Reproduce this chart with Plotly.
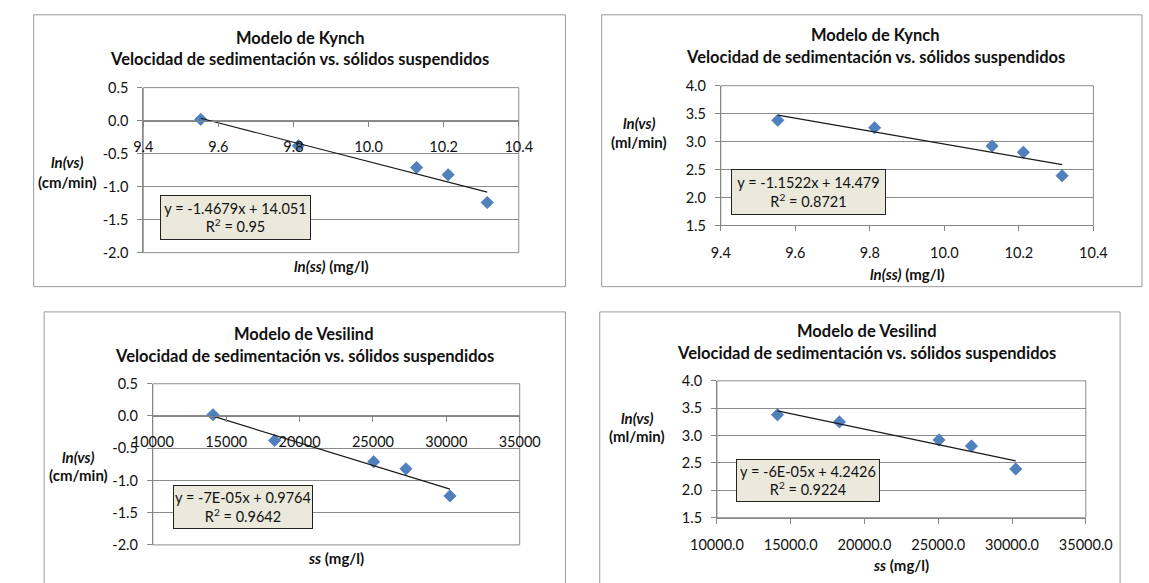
import numpy as np
import plotly.graph_objects as go

W, H = 1149, 583

# ---------------- data ----------------
ln_ss = [9.553, 9.813, 10.128, 10.212, 10.316]
ss = [14100, 18300, 25050, 27250, 30250]
ln_vs_cm = [0.02, -0.38, -0.71, -0.82, -1.24]
ln_vs_ml = [3.38, 3.25, 2.92, 2.81, 2.39]

# tick values / labels
x_ticks_ln = [9.4, 9.6, 9.8, 10.0, 10.2, 10.4]
x_ticks_ss = [10000, 15000, 20000, 25000, 30000, 35000]
x_labels_ln = ["9.4", "9.6", "9.8", "10.0", "10.2", "10.4"]
x_labels_ss = ["10000", "15000", "20000", "25000", "30000", "35000"]
x_labels_ss1 = ["10000.0", "15000.0", "20000.0", "25000.0", "30000.0", "35000.0"]
y_ticks_cm = [-2.0, -1.5, -1.0, -0.5, 0.0, 0.5]
y_labels_cm = ["-2.0", "-1.5", "-1.0", "-0.5", "0.0", "0.5"]
y_ticks_ml = [1.5, 2.0, 2.5, 3.0, 3.5, 4.0]
y_labels_ml = ["1.5", "2.0", "2.5", "3.0", "3.5", "4.0"]

titles = ["Modelo de Kynch", "Modelo de Kynch", "Modelo de Vesilind", "Modelo de Vesilind"]
subtitle = "Velocidad de sedimentación vs. sólidos suspendidos"
eq_text = ["y = -1.4679x + 14.051", "y = -1.1522x + 14.479",
           "y = -7E-05x + 0.9764", "y = -6E-05x + 4.2426"]
r2_text = ["R<sup>2</sup> = 0.95", "R<sup>2</sup> = 0.8721",
           "R<sup>2</sup> = 0.9642", "R<sup>2</sup> = 0.9224"]
y_units = ["(cm/min)", "(ml/min)", "(cm/min)", "(ml/min)"]
x_titles = ["<b><i>ln(ss)</i> (mg/l)</b>", "<b><i>ln(ss)</i> (mg/l)</b>",
            "<b><i>ss</i> (mg/l)</b>", "<b><i>ss</i> (mg/l)</b>"]

series_x = [ln_ss, ln_ss, ss, ss]
series_y = [ln_vs_cm, ln_vs_ml, ln_vs_cm, ln_vs_ml]
xticks = [(x_ticks_ln, x_labels_ln), (x_ticks_ln, x_labels_ln),
          (x_ticks_ss, x_labels_ss), (x_ticks_ss, x_labels_ss1)]
yticks = [(y_ticks_cm, y_labels_cm), (y_ticks_ml, y_labels_ml),
          (y_ticks_cm, y_labels_cm), (y_ticks_ml, y_labels_ml)]

# ---------------- layout (pixel geometry) ----------------
panels = [
    dict(frame=(7, 6, 565, 286), plot=(122, 81, 516, 251), xr=(9.4, 10.4),
         yr=(-2.0, 0.5), cross=True, title_x=286, title_y=(30, 52), ytitle=(42, 158, 178),
         xtitle_y=265, box=(143, 192, 294, 237)),
    dict(frame=(603, 6, 1170, 286), plot=(728, 79, 1119, 223), xr=(9.4, 10.4),
         yr=(1.5, 4.0), cross=False, title_x=890, title_y=(27, 49), ytitle=(642, 117, 137),
         xtitle_y=273, box=(743, 165, 898, 211)),
    dict(frame=(18, 312, 565, 600), plot=(132, 386, 517, 552), xr=(10000, 35000),
         yr=(-2.0, 0.5), cross=True, title_x=291, title_y=(335, 357), ytitle=(54, 461, 480),
         xtitle_y=565, box=(157, 491, 297, 535)),
    dict(frame=(601, 312, 1147, 600), plot=(724, 383, 1111, 524), xr=(10000, 35000),
         yr=(1.5, 4.0), cross=False, title_x=881, title_y=(332, 354), ytitle=(640, 421, 440),
         xtitle_y=573, box=(748, 464, 892, 507)),
]

def px(x):
    return x / W

def py(y):
    return 1 - y / H

FONT = "Lato, 'Open Sans', sans-serif"
GRID = "#8c8c8c"
AXIS = "#868686"
TXT = "#111111"
TICK_SIZE = 14.5

fig = go.Figure()
shapes = []
annotations = []
layout_axes = {}

for i, p in enumerate(panels):
    k = "" if i == 0 else str(i + 1)
    xa, ya = "x" + k, "y" + k
    l, t, r, b = p["plot"]
    xs, ys = series_x[i], series_y[i]

    fig.add_trace(go.Scatter(
        x=xs, y=ys, mode="markers", xaxis=xa, yaxis=ya, showlegend=False,
        marker=dict(symbol="diamond", size=9.5, color="#4f81bd",
                    line=dict(width=0.6, color="#3d6fae")),
    ))
    slope, icpt = np.polyfit(xs, ys, 1)
    xe = [min(xs), max(xs)]
    fig.add_trace(go.Scatter(
        x=xe, y=[slope * v + icpt for v in xe], mode="lines", xaxis=xa, yaxis=ya,
        showlegend=False, line=dict(color="#1a1a1a", width=1.2),
    ))

    y0, y1 = p["yr"]
    if p["cross"]:
        pos = py(b - (0 - y0) / (y1 - y0) * (b - t))
        xanchor = dict(anchor="free", position=pos)
        standoff = 8
    else:
        xanchor = dict(anchor=ya)
        standoff = 9

    layout_axes["xaxis" + k] = dict(
        domain=[px(l), px(r)], range=list(p["xr"]),
        tickmode="array", tickvals=xticks[i][0], ticktext=xticks[i][1],
        showgrid=False, zeroline=False, showline=True,
        linecolor=AXIS, linewidth=1, ticks="outside", ticklen=5, tickcolor=AXIS,
        tickfont=dict(family=FONT, size=TICK_SIZE, color=TXT), ticklabelstandoff=standoff,
        side="bottom", **xanchor)
    layout_axes["yaxis" + k] = dict(
        domain=[py(b), py(t)], range=[y0, y1],
        tickmode="array", tickvals=yticks[i][0], ticktext=yticks[i][1],
        showgrid=True, gridcolor=GRID, gridwidth=1, zeroline=False, showline=True,
        linecolor=AXIS, linewidth=1, ticks="outside", ticklen=5, tickcolor=AXIS,
        tickfont=dict(family=FONT, size=TICK_SIZE, color=TXT), ticklabelstandoff=6,
        anchor=xa)

    # plot-area border
    shapes.append(dict(type="rect", xref="paper", yref="paper",
                       x0=px(l), x1=px(r), y0=py(b), y1=py(t),
                       line=dict(color=GRID, width=1), layer="below"))
    # chart frame
    fl, ft, fr, fb = p["frame"]
    shapes.append(dict(type="rect", xref="paper", yref="paper",
                       x0=px(fl), x1=px(fr), y0=py(fb), y1=py(ft),
                       line=dict(color="#9a9a9a", width=1)))

    # titles
    for txt, ty in ((titles[i], p["title_y"][0]), (subtitle, p["title_y"][1])):
        annotations.append(dict(xref="paper", yref="paper", x=px(p["title_x"]), y=py(ty),
                                text="<b>" + txt + "</b>", showarrow=False,
                                xanchor="center", yanchor="middle",
                                font=dict(family=FONT, size=16.5, color=TXT)))
    # y title
    yx, yt1, yt2 = p["ytitle"]
    annotations.append(dict(xref="paper", yref="paper", x=px(yx), y=py(yt1),
                            text="<b><i>ln(vs)</i></b>", showarrow=False,
                            xanchor="center", yanchor="middle",
                            font=dict(family=FONT, size=15, color=TXT)))
    annotations.append(dict(xref="paper", yref="paper", x=px(yx), y=py(yt2),
                            text="<b>" + y_units[i] + "</b>", showarrow=False,
                            xanchor="center", yanchor="middle",
                            font=dict(family=FONT, size=15, color=TXT)))
    # x title
    annotations.append(dict(xref="paper", yref="paper", x=px((l + r) / 2), y=py(p["xtitle_y"]),
                            text=x_titles[i], showarrow=False,
                            xanchor="center", yanchor="middle",
                            font=dict(family=FONT, size=15, color=TXT)))
    # trendline label box
    bl, bt, br, bb = p["box"]
    annotations.append(dict(xref="paper", yref="paper", x=px((bl + br) / 2), y=py((bt + bb) / 2),
                            text=eq_text[i] + "<br>" + r2_text[i], showarrow=False,
                            xanchor="center", yanchor="middle", align="center",
                            width=br - bl - 2, height=bb - bt - 2, borderpad=0,
                            bgcolor="#ebe9dc", bordercolor="#222222", borderwidth=1,
                            font=dict(family=FONT, size=14.5, color=TXT)))

fig.update_layout(
    width=W, height=H, margin=dict(l=0, r=0, t=0, b=0),
    paper_bgcolor="white", plot_bgcolor="white",
    shapes=shapes, annotations=annotations, **layout_axes,
)

fig.write_html("out.html")
